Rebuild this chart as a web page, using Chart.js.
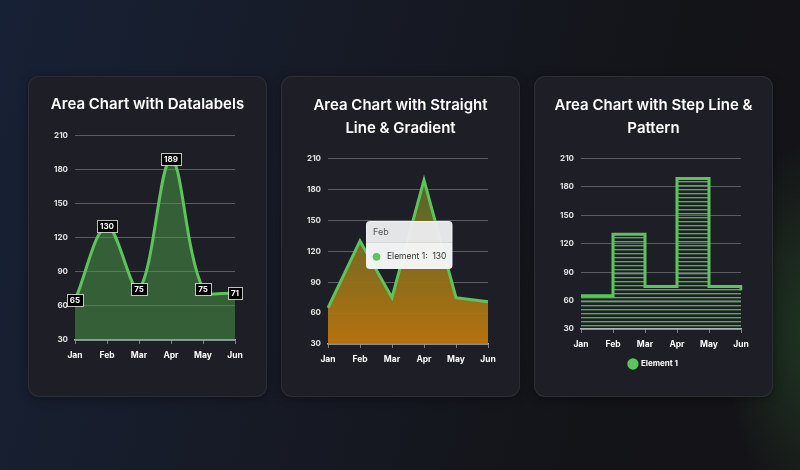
<!DOCTYPE html>
<html>
<head>
<meta charset="utf-8">
<script src="https://cdn.jsdelivr.net/npm/chart.js@4.4.1/dist/chart.umd.min.js"></script>
<style>
  html, body { margin: 0; padding: 0; }
  body {
    width: 800px; height: 470px; overflow: hidden; position: relative;
    background:
      radial-gradient(ellipse 90px 190px at 815px 330px, rgba(50,110,50,0.4), rgba(0,0,0,0)),
      linear-gradient(105deg, #172135 0%, #161a25 40%, #131418 75%, #141417 100%);
    font-family: Inter, sans-serif;
  }
  .card {
    position: absolute; top: 76px; width: 239px; height: 321px;
    background: #1e1f26; border: 1px solid rgba(255,255,255,0.07);
    border-radius: 11px; box-sizing: border-box;
    box-shadow: 0 2px 10px rgba(0,0,0,0.35);
  }
  .card canvas { position: absolute; left: 0; top: 0; }
</style>
</head>
<body>
<div class="card" style="left:28px"><canvas id="areaLabels" width="237" height="319"></canvas></div>
<div class="card" style="left:281px"><canvas id="areaGradient" width="237" height="319"></canvas></div>
<div class="card" style="left:534px"><canvas id="areaStep" width="237" height="319"></canvas></div>
<script>
// data
const months = ["Jan", "Feb", "Mar", "Apr", "May", "Jun"];
const element1 = [65, 130, 75, 189, 75, 71];
const seriesName = "Element 1";
const yMin = 30, yMax = 210, yStep = 30;

const green = "#5cc45a";
const gridColor = "rgba(190,195,205,0.38)";
Chart.defaults.font.family = "Inter, sans-serif";
Chart.defaults.animation = false;

function titleOpts(text, top, below) {
  return {
    display: true,
    text: text,
    color: "#ffffff",
    font: { size: 15, weight: "600", lineHeight: 1.55 },
    padding: { top: top, bottom: below },
  };
}

// plot sits 46px from the left edge; an empty right axis takes 31px so titles stay centred
function scaleOpts() {
  return {
    x: {
      grid: { drawOnChartArea: false, color: "rgba(190,195,205,0.6)", tickLength: 4 },
      border: { display: true, color: "rgba(215,215,220,0.8)", width: 1.5 },
      ticks: { color: "#ffffff", font: { size: 8.5, weight: "700" }, padding: 6, maxRotation: 0 },
      afterFit(scale) { scale.height = 22; },
    },
    y: {
      min: yMin, max: yMax,
      grid: { color: gridColor, drawTicks: false },
      border: { display: false },
      ticks: { stepSize: yStep, color: "#e2e2e2", font: { size: 8, weight: "700" }, padding: 7 },
      afterFit(scale) { scale.width = 46; },
    },
    yRight: {
      position: "right",
      grid: { display: false },
      border: { display: false },
      ticks: { display: false },
      afterFit(scale) { scale.width = 31; },
    },
  };
}

// boxed value labels for the first chart
const boxLabels = {
  id: "boxLabels",
  afterDatasetsDraw(chart) {
    const ctx = chart.ctx;
    const meta = chart.getDatasetMeta(0);
    ctx.save();
    ctx.font = "700 8px Inter, sans-serif";
    ctx.textAlign = "center";
    ctx.textBaseline = "middle";
    meta.data.forEach((pt, i) => {
      const txt = String(chart.data.datasets[0].data[i]);
      const w = Math.round(ctx.measureText(txt).width + 6);
      const h = 12;
      const x = Math.round(pt.x - w / 2) + 0.5, y = Math.round(pt.y - h / 2) + 0.5;
      ctx.fillStyle = "#000";
      ctx.fillRect(x, y, w, h);
      ctx.strokeStyle = "rgba(235,235,235,0.8)";
      ctx.lineWidth = 1;
      ctx.strokeRect(x, y, w, h);
      ctx.fillStyle = "#fff";
      ctx.fillText(txt, pt.x, pt.y + 0.5);
    });
    ctx.restore();
  },
};

new Chart(document.getElementById("areaLabels"), {
  type: "line",
  data: {
    labels: months,
    datasets: [{
      label: seriesName,
      data: element1,
      borderColor: green,
      borderWidth: 3,
      backgroundColor: "rgba(76,160,70,0.5)",
      fill: "start",
      tension: 0.35,
      pointRadius: 0,
    }],
  },
  options: {
    responsive: false,
    layout: { padding: { left: 0, right: 0, top: 0, bottom: 34 } },
    plugins: { legend: { display: false }, tooltip: { enabled: false }, title: titleOpts("Area Chart with Datalabels", 16, 19) },
    scales: scaleOpts(),
  },
  plugins: [boxLabels],
});

// tooltip header band
const tipHeader = {
  id: "tipHeader",
  afterTooltipDraw(chart, args) {
    const tt = args.tooltip;
    if (!tt || !tt.opacity) return;
    const ctx = chart.ctx;
    const hy = Math.round(tt.y + 21);
    ctx.save();
    ctx.fillStyle = "rgba(0,0,0,0.045)";
    ctx.fillRect(tt.x + 1, tt.y + 1, tt.width - 2, hy - tt.y - 1);
    ctx.strokeStyle = "rgba(0,0,0,0.1)";
    ctx.beginPath();
    ctx.moveTo(tt.x, hy + 0.5);
    ctx.lineTo(tt.x + tt.width, hy + 0.5);
    ctx.stroke();
    ctx.restore();
  },
};

Chart.Tooltip.positioners.lowered = function (items) {
  const p = Chart.Tooltip.positioners.average.call(this, items);
  return p ? { x: p.x, y: p.y + 4 } : p;
};

const gradChart = new Chart(document.getElementById("areaGradient"), {
  type: "line",
  data: {
    labels: months,
    datasets: [{
      label: seriesName,
      data: element1,
      borderColor: green,
      borderWidth: 3,
      backgroundColor(context) {
        const area = context.chart.chartArea;
        if (!area) return "rgba(0,0,0,0)";
        const g = context.chart.ctx.createLinearGradient(0, area.top, 0, area.bottom);
        g.addColorStop(0, "rgba(70,105,48,0.95)");
        g.addColorStop(1, "rgba(190,118,14,0.95)");
        return g;
      },
      fill: "start",
      tension: 0,
      pointRadius: 0,
      pointHoverRadius: 0,
    }],
  },
  options: {
    responsive: false,
    interaction: { mode: "index", intersect: false },
    layout: { padding: { left: 0, right: 0, top: 0, bottom: 30 } },
    plugins: {
      legend: { display: false },
      title: titleOpts(["Area Chart with Straight", "Line & Gradient"], 17, 18),
      tooltip: {
        position: "lowered",
        backgroundColor: "rgba(246,247,248,0.97)",
        titleColor: "#5a5a5a",
        titleFont: { size: 9, weight: "400" },
        bodyColor: "#333",
        bodyFont: { size: 8.5, weight: "400" },
        padding: { top: 6, bottom: 7, left: 7, right: 6 },
        titleMarginBottom: 14,
        caretSize: 0,
        caretPadding: 6,
        xAlign: "left",
        yAlign: "center",
        cornerRadius: 4,
        usePointStyle: true,
        boxWidth: 7,
        boxHeight: 7,
        boxPadding: 5,
        callbacks: {
          label: (ctx) => ctx.dataset.label + ":  " + ctx.parsed.y,
          labelColor: () => ({ borderColor: green, backgroundColor: green }),
          labelPointStyle: () => ({ pointStyle: "circle", rotation: 0 }),
        },
      },
    },
    scales: scaleOpts(),
  },
  plugins: [tipHeader],
});
const feb = gradChart.getDatasetMeta(0).data[1];
gradChart.tooltip.setActiveElements([{ datasetIndex: 0, index: 1 }], { x: feb.x, y: feb.y });
gradChart.update();

// striped fill for the step chart
function stripePattern() {
  const c = document.createElement("canvas");
  c.width = 8; c.height = 4;
  const g = c.getContext("2d");
  g.fillStyle = "rgba(84,185,82,0.95)";
  g.fillRect(0, 0, 8, 1);
  g.fillStyle = "rgba(84,185,82,0.35)";
  g.fillRect(0, 1, 8, 1);
  return g.createPattern(c, "repeat");
}

new Chart(document.getElementById("areaStep"), {
  type: "line",
  data: {
    labels: months,
    datasets: [{
      label: seriesName,
      data: element1,
      borderColor: green,
      borderWidth: 3,
      backgroundColor: stripePattern(),
      fill: "start",
      stepped: true,
      pointRadius: 0,
    }],
  },
  options: {
    responsive: false,
    layout: { padding: { left: 0, right: 0, top: 0, bottom: 18 } },
    plugins: {
      title: titleOpts(["Area Chart with Step Line &", "Pattern"], 17, 18),
      tooltip: { enabled: false },
      legend: {
        position: "bottom",
        labels: {
          color: "#ffffff",
          font: { size: 8, weight: "700" },
          usePointStyle: true,
          pointStyle: "circle",
          boxWidth: 9,
          boxHeight: 9,
          padding: 9,
          generateLabels(chart) {
            const items = Chart.defaults.plugins.legend.labels.generateLabels(chart);
            items.forEach((it) => { it.fillStyle = green; it.strokeStyle = green; it.lineWidth = 0; });
            return items;
          },
        },
      },
    },
    scales: scaleOpts(),
  },
});
</script>
</body>
</html>
